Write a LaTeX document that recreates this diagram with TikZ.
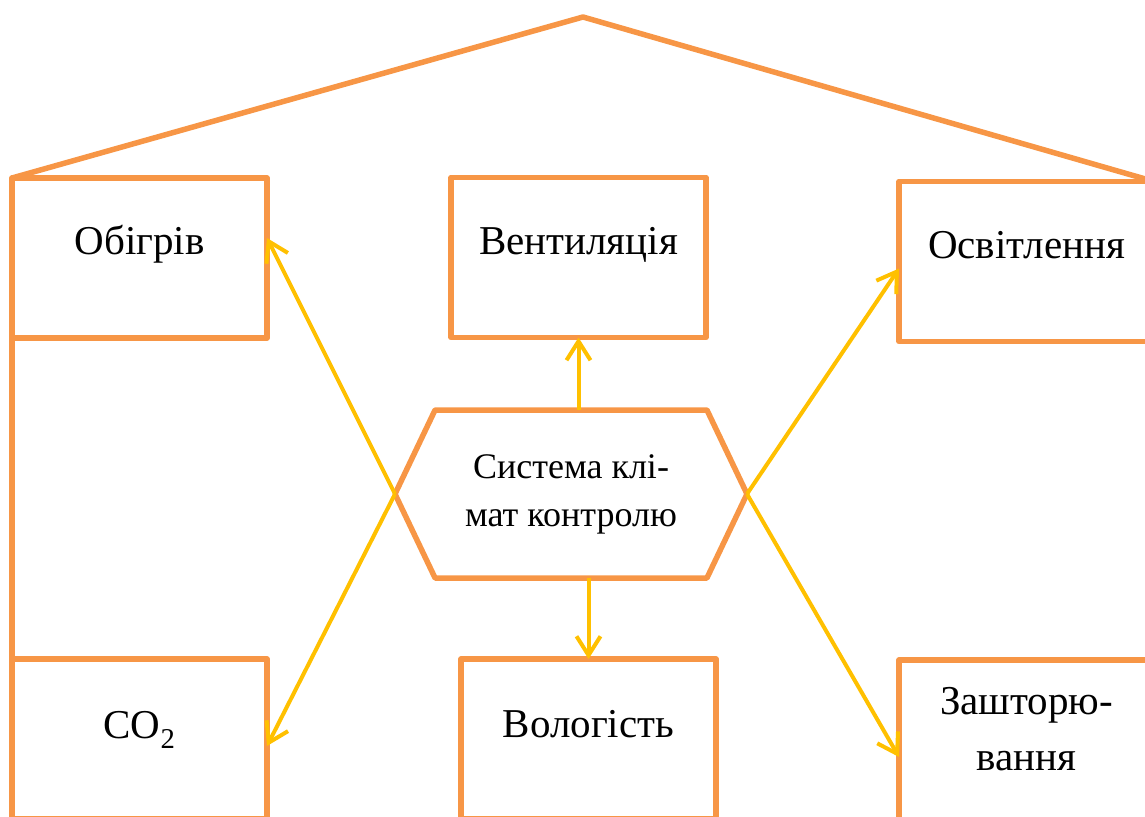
\documentclass[tikz,border=0pt]{standalone}
\usepackage{fontspec}
\setmainfont{Liberation Serif}
\usetikzlibrary{arrows.meta,shapes.symbols}
\definecolor{frameorange}{HTML}{F79646}
\definecolor{linkyellow}{HTML}{FFC000}
\tikzset{
  frame/.style={draw=frameorange, line width=5.5pt, line join=round, outer sep=0pt},
  unit/.style={frame, rectangle, minimum width=255pt, minimum height=160pt, inner sep=0pt},
  caption/.style={font=\fontsize{41}{49}\selectfont, anchor=base, inner sep=0pt},
  link/.style={draw=linkyellow, line width=4pt,
    -{Straight Barb[length=19pt,width=24pt,line width=4pt]}},
}
\begin{document}
\begin{tikzpicture}[x=1pt,y=-1pt]
  \clip (0,0) rectangle (1145,816);
  % subsystem boxes
  \node[unit] (heat)  at (139.5,258) {};
  \node[unit] (vent)  at (578.5,257.5) {};
  \node[unit] (light) at (1026.5,261.5) {};
  \node[unit] (co2)   at (139.5,739) {};
  \node[unit] (hum)   at (588.5,739) {};
  \node[unit] (blind) at (1026.5,740) {};
  % captions
  \node[caption] (heatT)  at (139.5,254) {Обігрів};
  \node[caption] (ventT)  at (578.5,254) {Вентиляція};
  \node[caption] (lightT) at (1026.5,258) {Освітлення};
  \node[caption] (co2T)   at (139.5,738) {CO\textsubscript{2}};
  \node[caption] (humT)   at (588.5,737) {Вологість};
  \node[caption] (blindT1) at (1026.5,714) {Зашторю-};
  \node[caption] (blindT2) at (1026.5,770) {вання};
  % house outline: roof and left wall
  \coordinate (apex) at (583,17);
  \draw[frame] (heat.north west) -- (apex) -- (light.north east);
  \draw[frame] (heat.north west) -- (co2.south west);
  % central controller
  \node[frame, signal, signal to=west and east, signal pointer angle=129,
        minimum width=352pt, minimum height=168pt, inner sep=0pt,
        align=center, font=\fontsize{36}{48}\selectfont] (hex) at (571,494)
        {Система клі-\\мат контролю};
  % control links
  \draw[link] (vent.south |- hex.north) -- (vent.south);
  \draw[link] (hum.north |- hex.south) -- (hum.north);
  \draw[link] (hex.west) -- ([yshift=20pt]heat.east);
  \draw[link] (hex.west) -- ([yshift=-7pt]co2.east);
  \draw[link] (hex.east) -- ([yshift=-7pt]light.west);
  \draw[link] (hex.east) -- ([yshift=-17pt]blind.west);
\end{tikzpicture}
\end{document}
